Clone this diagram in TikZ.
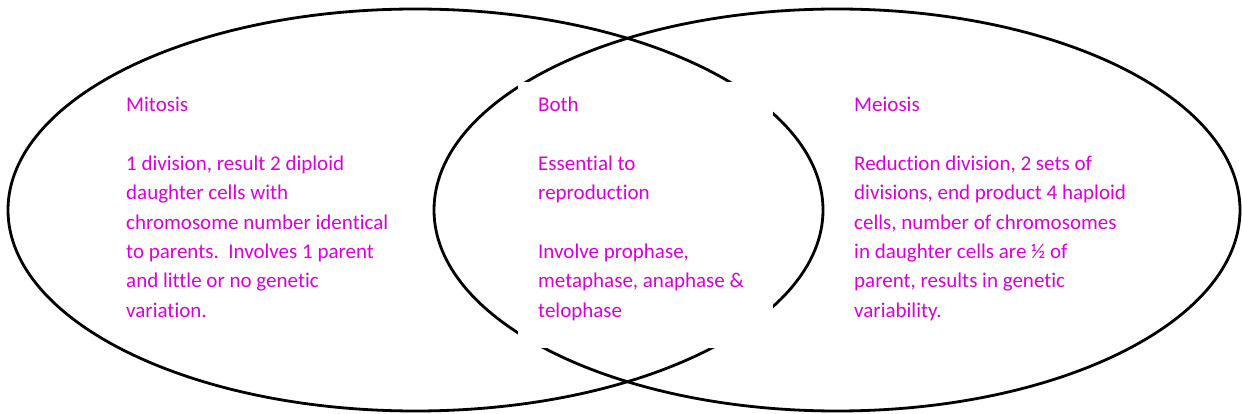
\documentclass[tikz,border=0pt]{standalone}
\usepackage{fontspec}
\setmainfont{Carlito}[Ligatures=NoCommon]
\definecolor{notepink}{RGB}{218,0,218}
\begin{document}
\begin{tikzpicture}[x=1pt,y=-1pt,
  ring/.style={draw=black,line width=2.8pt},
  blockout/.style={fill=white,draw=none},
  note/.style={text=notepink,inner sep=0pt,anchor=base west,
    font=\fontsize{21}{29.3}\selectfont}]
\useasboundingbox (0,0) rectangle (1242,414);
% the two overlapping sets
\draw[ring] (415.5,210) ellipse [x radius=407.5,y radius=201];
\draw[ring] (837,210) ellipse [x radius=403,y radius=201];
% white text frame of the middle column
\fill[blockout] (518,82) rectangle (773,348);
% set descriptions
\node[note] (mitosis) at (126,112) {\parbox[t]{300pt}{\raggedright
  Mitosis\\[29.3pt]
  1 division, result 2 diploid\\
  daughter cells with\\
  chromosome number identical\\
  to parents.\ \ Involves 1 parent\\
  and little or no genetic\\
  variation.}};
\node[note] (both) at (538,112) {\parbox[t]{240pt}{\raggedright
  Both\\[29.3pt]
  Essential to\\
  reproduction\\[29.3pt]
  Involve prophase,\\
  metaphase, anaphase \&\\
  telophase}};
\node[note] (meiosis) at (854,112) {\parbox[t]{300pt}{\raggedright
  Meiosis\\[29.3pt]
  Reduction division, 2 sets of\\
  divisions, end product 4 haploid\\
  cells, number of chromosomes\\
  in daughter cells are ½ of\\
  parent, results in genetic\\
  variability.}};
\end{tikzpicture}
\end{document}
